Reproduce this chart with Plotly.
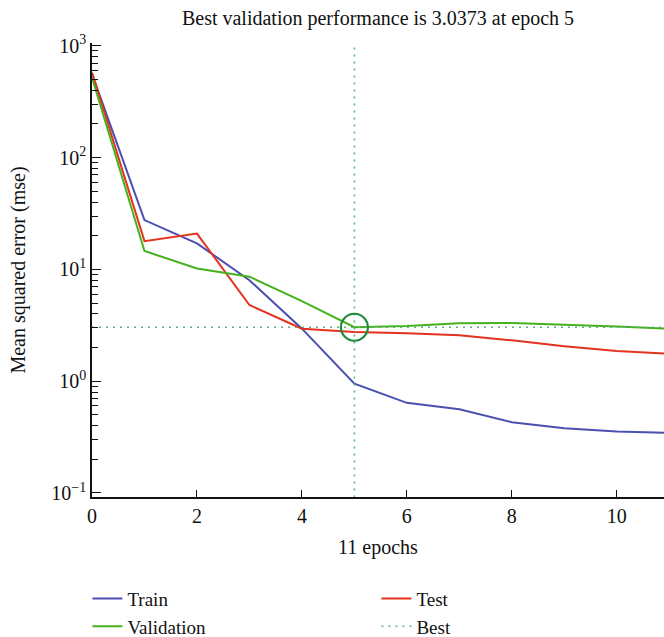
import plotly.graph_objects as go

epochs = list(range(12))
train = [560, 27.6, 17.1, 8.0, 2.95, 0.95, 0.64, 0.56, 0.43, 0.38, 0.355, 0.345]
validation = [520, 14.6, 10.2, 8.6, 5.2, 3.0373, 3.12, 3.30, 3.32, 3.22, 3.08, 2.95]
test = [575, 17.9, 20.9, 4.8, 2.95, 2.76, 2.68, 2.58, 2.32, 2.05, 1.86, 1.76]
best_epoch = 5
best_perf = 3.0373

ytick_vals = [0.1, 1, 10, 100, 1000]
ytick_text = ["10<sup>−1</sup>", "10<sup>0</sup>", "10<sup>1</sup>", "10<sup>2</sup>", "10<sup>3</sup>"]
minor_vals = [m * 10**k for k in range(-1, 3) for m in range(2, 10)]

FONT = "Liberation Serif"
c_train = "#4a4fb0"
c_val = "#45b21c"
c_test = "#e3321f"
c_best = "#5fae86"
c_circle = "#1e8a3e"
YRANGE = [-1.036, 3.025]

all_vals = ytick_vals + minor_vals
all_text = ytick_text + [""] * len(minor_vals)

fig = go.Figure()
fig.add_trace(go.Scatter(x=epochs, y=train, mode="lines", name="Train",
                         line=dict(color=c_train, width=2), legendrank=1))
fig.add_trace(go.Scatter(x=epochs, y=test, mode="lines", name="Test",
                         line=dict(color=c_test, width=2), legendrank=2))
fig.add_trace(go.Scatter(x=epochs, y=validation, mode="lines", name="Validation",
                         line=dict(color=c_val, width=2), legendrank=3))
fig.add_trace(go.Scatter(x=[0, 11], y=[best_perf, best_perf], mode="lines", name="Best",
                         line=dict(color=c_best, width=1.6, dash="2px,5px"), legendrank=4))
fig.add_trace(go.Scatter(x=[best_epoch, best_epoch], y=[10**-1.04, 10**3.03], mode="lines",
                         showlegend=False, line=dict(color=c_best, width=1.6, dash="2px,5px")))
fig.add_trace(go.Scatter(x=[best_epoch], y=[best_perf], mode="markers", showlegend=False,
                         marker=dict(symbol="circle-open", size=27, color=c_circle,
                                     line=dict(width=2.2, color=c_circle))))
# trace on an overlaying axis that carries the longer major ticks
fig.add_trace(go.Scatter(x=[best_epoch], y=[best_perf], yaxis="y2", mode="markers",
                         marker=dict(opacity=0), showlegend=False, hoverinfo="skip"))

fig.update_layout(
    width=664, height=637,
    margin=dict(l=92, r=0, t=43, b=140, autoexpand=False),
    plot_bgcolor="white", paper_bgcolor="white",
    font=dict(family=FONT, size=20, color="#111"),
    title=dict(text="Best validation performance is 3.0373 at epoch 5", x=0.5, xref="paper",
               y=1 - 18/637, yanchor="middle", font=dict(size=20, family=FONT)),
    showlegend=True,
    legend=dict(orientation="h", x=-0.008, xanchor="left", y=-0.182, yanchor="top",
                entrywidth=244, entrywidthmode="pixels", traceorder="normal",
                font=dict(size=19, family=FONT), bgcolor="rgba(0,0,0,0)", tracegroupgap=0),
    yaxis2=dict(type="log", range=YRANGE, overlaying="y", side="left", anchor="x",
                tickmode="array", tickvals=ytick_vals, ticks="inside", ticklen=9,
                tickwidth=1.4, tickcolor="#111", showticklabels=False, showgrid=False,
                zeroline=False, showline=False),
)
fig.update_xaxes(range=[0, 10.9], showline=True, linecolor="#111", linewidth=1.5,
                 ticks="inside", ticklen=7, tickwidth=1.4, tickcolor="#111",
                 tickvals=[0, 2, 4, 6, 8, 10], showgrid=False, zeroline=False,
                 title=dict(text="11 epochs", standoff=14, font=dict(size=20, family=FONT)),
                 tickfont=dict(size=20, family=FONT))
fig.update_layout(yaxis=dict(type="log", range=YRANGE, showline=True, linecolor="#111", linewidth=1.5,
                 ticks="inside", ticklen=6, tickwidth=1.3, tickcolor="#111",
                 tickmode="array", tickvals=all_vals, ticktext=all_text, showgrid=False, zeroline=False,
                 title=dict(text="Mean squared error (mse)", standoff=20, font=dict(size=20, family=FONT)),
                 tickfont=dict(size=20, family=FONT)))

fig.write_html("out.html")
